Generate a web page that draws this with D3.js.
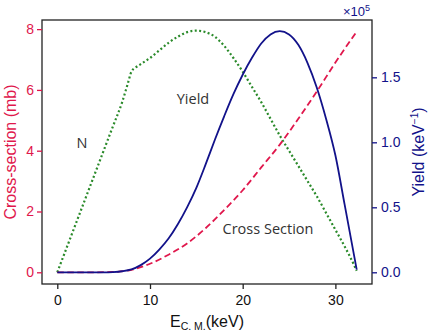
<!DOCTYPE html>
<html>
<head>
<meta charset="utf-8">
<script src="https://cdn.jsdelivr.net/npm/d3@7"></script>
<style>
  body { margin: 0; background: #fff; }
  svg { display: block; font-family: "Liberation Sans", Arial, sans-serif; }
  .note { font-family: "Open Sans", sans-serif; font-size: 14.5px; fill: #333; }
</style>
</head>
<body>
<svg id="chart" width="429" height="333"></svg>
<script>
// E_CM (keV) samples for each curve
const csE = [0, 4, 6, 8, 10, 12, 14, 16, 18, 20, 22, 24, 26, 28, 30, 32.3];
const csVal = [0, 0, 0.01, 0.08, 0.28, 0.58, 0.95, 1.45, 2.05, 2.7, 3.45, 4.2, 5.05, 5.95, 6.9, 7.92];

const yieldE = [0, 5, 6, 7, 8, 9, 10, 11, 12, 13, 14, 15, 16, 17, 18, 19, 20, 21, 22, 23, 24, 25, 26, 27, 28, 29, 30, 31, 32.3];
const yieldVal = [0, 0, 0.002, 0.008, 0.022, 0.055, 0.105, 0.175, 0.26, 0.37, 0.5, 0.65, 0.83, 1.02, 1.2, 1.37, 1.52, 1.65, 1.76, 1.83, 1.855, 1.83, 1.75, 1.61, 1.42, 1.18, 0.9, 0.52, 0.02];

const nE = [0, 2, 4, 6, 7, 7.6, 8, 8.5, 9, 10, 11, 12, 13, 14, 15, 16, 17, 18, 19, 20, 21, 22, 23, 24, 25, 26, 27, 28, 29, 30, 31, 32, 32.3];
const nVal = [0, 1.6, 3.2, 4.8, 5.6, 6.2, 6.6, 6.75, 6.85, 7.05, 7.3, 7.55, 7.75, 7.9, 7.95, 7.9, 7.75, 7.45, 7.05, 6.6, 6.1, 5.6, 5.05, 4.5, 4.0, 3.5, 3.0, 2.5, 1.95, 1.4, 0.85, 0.25, 0.05];

const xTicks = [0, 10, 20, 30];
const leftTicks = [0, 2, 4, 6, 8];
const rightTicks = [0, 0.5, 1.0, 1.5];

const red = "#e0174c", navy = "#12128a", green = "#2a8a2a";
const W = 429, H = 333;
const margin = { top: 20, right: 57, bottom: 49, left: 42 };

const svg = d3.select("#chart");
const x = d3.scaleLinear().domain([-1.65, 33.95]).range([margin.left, W - margin.right]);
const yL = d3.scaleLinear().domain([-0.385, 8.3]).range([H - margin.bottom, margin.top]);
const yR = d3.scaleLinear().domain([-0.09, 1.941]).range([H - margin.bottom, margin.top]);

const zip = (a, b) => a.map((v, i) => [v, b[i]]);

// curves
const lineL = d3.line().x(d => x(d[0])).y(d => yL(d[1])).curve(d3.curveMonotoneX);
const lineR = d3.line().x(d => x(d[0])).y(d => yR(d[1])).curve(d3.curveMonotoneX);

svg.append("path").attr("d", lineL(zip(nE, nVal)))
  .attr("fill", "none").attr("stroke", green).attr("stroke-width", 2.2)
  .attr("stroke-dasharray", "2,2.4");
svg.append("path").attr("d", lineL(zip(csE, csVal)))
  .attr("fill", "none").attr("stroke", red).attr("stroke-width", 1.8)
  .attr("stroke-dasharray", "6.5,3.5");
svg.append("path").attr("d", lineR(zip(yieldE, yieldVal)))
  .attr("fill", "none").attr("stroke", navy).attr("stroke-width", 1.8);

// frame
svg.append("rect")
  .attr("x", margin.left).attr("y", margin.top)
  .attr("width", W - margin.left - margin.right)
  .attr("height", H - margin.top - margin.bottom)
  .attr("fill", "none").attr("stroke", "#222").attr("stroke-width", 1.3);

// axes
const xAxis = svg.append("g").attr("transform", `translate(0,${H - margin.bottom})`)
  .call(d3.axisBottom(x).tickValues(xTicks).tickSize(5).tickSizeOuter(0));
xAxis.select(".domain").remove();
xAxis.selectAll("line").attr("stroke", "#222").attr("stroke-width", 1.3);
xAxis.selectAll("text").attr("font-size", 14).attr("fill", "#111").attr("dy", "0.95em");

const lAxis = svg.append("g").attr("transform", `translate(${margin.left},0)`)
  .call(d3.axisLeft(yL).tickValues(leftTicks).tickSize(5).tickSizeOuter(0));
lAxis.select(".domain").remove();
lAxis.selectAll("line").attr("stroke", red).attr("stroke-width", 1.3);
lAxis.selectAll("text").attr("font-size", 14).attr("fill", red).attr("x", -8);

const rAxis = svg.append("g").attr("transform", `translate(${W - margin.right},0)`)
  .call(d3.axisRight(yR).tickValues(rightTicks).tickSize(5).tickSizeOuter(0).tickFormat(d3.format(".1f")));
rAxis.select(".domain").remove();
rAxis.selectAll("line").attr("stroke", navy).attr("stroke-width", 1.3);
rAxis.selectAll("text").attr("font-size", 14).attr("fill", navy).attr("x", 9);

// axis titles
svg.append("text")
  .attr("transform", `translate(16,${(margin.top + H - margin.bottom) / 2}) rotate(-90)`)
  .attr("text-anchor", "middle").attr("font-size", 16).attr("fill", red)
  .text("Cross-section (mb)");

const rt = svg.append("text")
  .attr("transform", `translate(424,${(margin.top + H - margin.bottom) / 2}) rotate(-90)`)
  .attr("text-anchor", "middle").attr("font-size", 16).attr("fill", navy);
rt.append("tspan").text("Yield (keV");
rt.append("tspan").attr("font-size", 10).attr("dy", -6).text("−1");
rt.append("tspan").attr("dy", 6).text(")");

const xt = svg.append("text")
  .attr("x", (margin.left + W - margin.right) / 2).attr("y", 327)
  .attr("text-anchor", "middle").attr("font-size", 16).attr("fill", "#111");
xt.append("tspan").text("E");
xt.append("tspan").attr("font-size", 10.5).attr("dy", 3).text("C. M.");
xt.append("tspan").attr("dy", -3).text("(keV)");

const ex = svg.append("text")
  .attr("x", W - margin.right - 2).attr("y", 16)
  .attr("text-anchor", "end").attr("font-size", 13).attr("fill", navy);
ex.append("tspan").text("×10");
ex.append("tspan").attr("font-size", 9).attr("dy", -5).text("5");

// curve labels
svg.append("text").attr("class", "note").attr("x", 82).attr("y", 148).attr("text-anchor", "middle").text("N");
svg.append("text").attr("class", "note").attr("x", 193).attr("y", 104).attr("text-anchor", "middle").text("Yield");
svg.append("text").attr("class", "note").attr("x", 268).attr("y", 234).attr("text-anchor", "middle").text("Cross Section");
</script>
</body>
</html>
